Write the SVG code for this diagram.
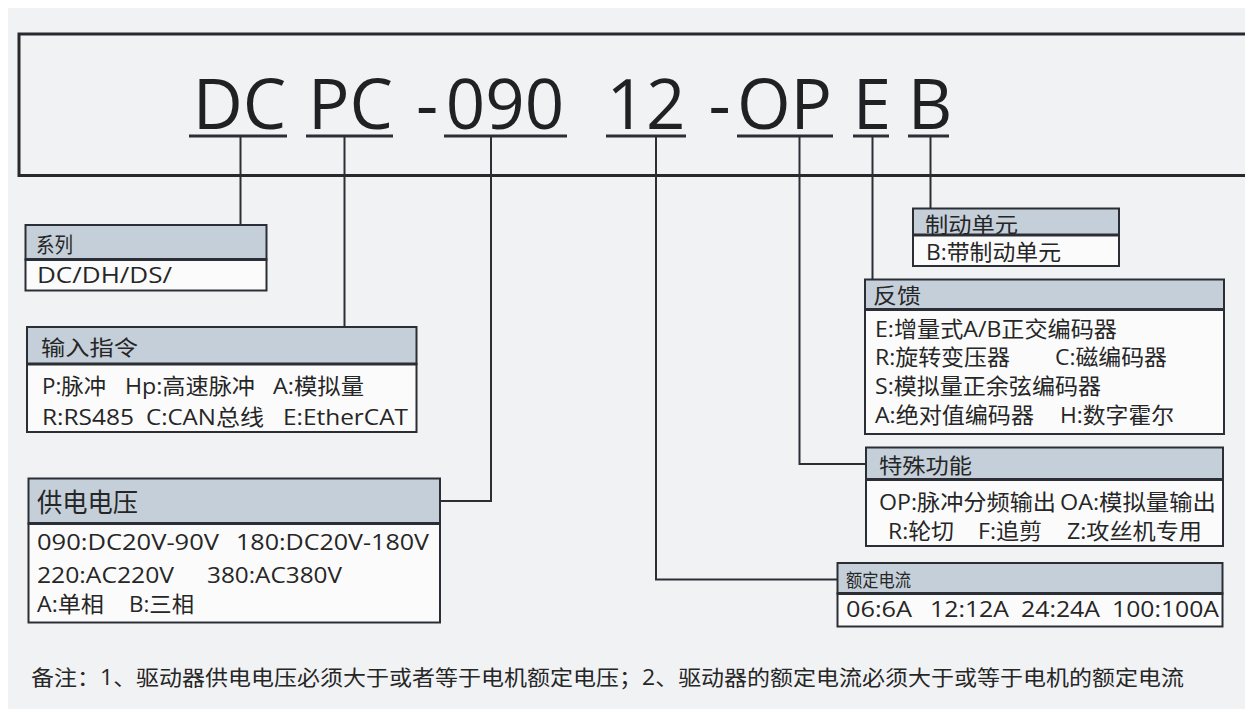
<svg xmlns="http://www.w3.org/2000/svg" width="1245" height="709" viewBox="0 0 1245 709">
<style>
.bg{fill:#f1f2f4}
.frame{fill:none;stroke:#26292e;stroke-width:3}
.hd{fill:#c4cfd9;stroke:#2b2f35;stroke-width:2}
.bd{fill:#fbfbfc;stroke:#2b2f35;stroke-width:2}
.div{stroke:#2b2f35;stroke-width:3}
.ul{stroke:#2b2f35;stroke-width:3}
.cn{fill:none;stroke:#2b2f35;stroke-width:2}
text{font-family:"Open Sans","Noto Sans CJK SC",sans-serif;fill:#262626}
.title{font-size:69px;fill:#1f2124}
.t{font-size:22px}
.h{font-size:21px}
</style>
<rect x="0" y="0" width="1245" height="709" fill="#ffffff"/>
<rect class="bg" x="8" y="8" width="1237" height="701"/>
<rect class="frame" x="19" y="34" width="1240" height="141.5"/>

<g id="code">
<text class="title" x="239.5" y="129" text-anchor="middle">DC</text>
<text class="title" x="350.5" y="129" text-anchor="middle">PC</text>
<text class="title" x="427" y="129" text-anchor="middle">-</text>
<text class="title" x="505" y="129" text-anchor="middle">090</text>
<text class="title" x="646" y="129" text-anchor="middle">12</text>
<text class="title" x="719.5" y="129" text-anchor="middle">-</text>
<text class="title" x="784.5" y="129" text-anchor="middle">OP</text>
<text class="title" x="872" y="129" text-anchor="middle">E</text>
<text class="title" x="930" y="129" text-anchor="middle">B</text>
<line class="ul" x1="189" y1="136" x2="287" y2="136"/>
<line class="ul" x1="306" y1="136" x2="393" y2="136"/>
<line class="ul" x1="444" y1="136" x2="567" y2="136"/>
<line class="ul" x1="606" y1="136" x2="686" y2="136"/>
<line class="ul" x1="737" y1="136" x2="833" y2="136"/>
<line class="ul" x1="853" y1="136" x2="889" y2="136"/>
<line class="ul" x1="908" y1="136" x2="949" y2="136"/>
</g>

<g id="connectors">
<polyline class="cn" points="240.5,137 240.5,225"/>
<polyline class="cn" points="344.5,137 344.5,327"/>
<polyline class="cn" points="491,137 491,501 440,501"/>
<polyline class="cn" points="656,137 656,579.5 837.5,579.5"/>
<polyline class="cn" points="799.5,137 799.5,464 866,464"/>
<polyline class="cn" points="872.5,137 872.5,279.5"/>
<polyline class="cn" points="930.5,137 930.5,208.5"/>
</g>

<g id="series">
<rect class="hd" x="25.5" y="225" width="241" height="34.5"/>
<rect class="bd" x="25.5" y="259.5" width="241" height="31"/>
<line class="div" x1="25.5" y1="259.5" x2="266.5" y2="259.5"/>
<text class="h" x="36" y="252" font-size="20" textLength="37" lengthAdjust="spacingAndGlyphs">系列</text>
<text class="t" x="37" y="283" textLength="135" lengthAdjust="spacingAndGlyphs">DC/DH/DS/</text>
</g>

<g id="input">
<rect class="hd" x="27" y="327" width="389.5" height="37"/>
<rect class="bd" x="27" y="364" width="389.5" height="68"/>
<line class="div" x1="27" y1="364" x2="416.5" y2="364"/>
<text class="h" x="41" y="355" font-size="22" textLength="97" lengthAdjust="spacingAndGlyphs">输入指令</text>
<text class="t" x="42" y="394" textLength="64" lengthAdjust="spacingAndGlyphs">P:脉冲</text>
<text class="t" x="125" y="394" textLength="130" lengthAdjust="spacingAndGlyphs">Hp:高速脉冲</text>
<text class="t" x="273" y="394" textLength="91" lengthAdjust="spacingAndGlyphs">A:模拟量</text>
<text class="t" x="42" y="425" textLength="92" lengthAdjust="spacingAndGlyphs">R:RS485</text>
<text class="t" x="146" y="425" textLength="118" lengthAdjust="spacingAndGlyphs">C:CAN总线</text>
<text class="t" x="283" y="425" textLength="125" lengthAdjust="spacingAndGlyphs">E:EtherCAT</text>
</g>

<g id="supply">
<rect class="hd" x="28.5" y="478.5" width="411.5" height="45"/>
<rect class="bd" x="28.5" y="523.5" width="411.5" height="99"/>
<line class="div" x1="28.5" y1="523.5" x2="440" y2="523.5"/>
<text x="37" y="512" font-size="26" textLength="101" lengthAdjust="spacingAndGlyphs">供电电压</text>
<text class="t" x="37" y="550" font-size="23" textLength="182" lengthAdjust="spacingAndGlyphs">090:DC20V-90V</text>
<text class="t" x="236" y="550" font-size="23" textLength="193" lengthAdjust="spacingAndGlyphs">180:DC20V-180V</text>
<text class="t" x="37" y="583" font-size="23" textLength="137" lengthAdjust="spacingAndGlyphs">220:AC220V</text>
<text class="t" x="207" y="583" font-size="23" textLength="135" lengthAdjust="spacingAndGlyphs">380:AC380V</text>
<text class="t" x="37" y="612" font-size="23" textLength="67" lengthAdjust="spacingAndGlyphs">A:单相</text>
<text class="t" x="129" y="612" font-size="23" textLength="65" lengthAdjust="spacingAndGlyphs">B:三相</text>
</g>

<g id="brake">
<rect class="hd" x="913" y="208.5" width="206" height="26.5"/>
<rect class="bd" x="913" y="235" width="206" height="31"/>
<line class="div" x1="913" y1="235" x2="1119" y2="235"/>
<text class="h" x="925" y="231.5" font-size="20" textLength="93" lengthAdjust="spacingAndGlyphs">制动单元</text>
<text class="t" x="926" y="259.5" font-size="21" textLength="135" lengthAdjust="spacingAndGlyphs">B:带制动单元</text>
</g>

<g id="feedback">
<rect class="hd" x="865" y="279.5" width="359" height="30"/>
<rect class="bd" x="865" y="309.5" width="359" height="124.5"/>
<line class="div" x1="865" y1="309.5" x2="1224" y2="309.5"/>
<text class="h" x="873" y="303" font-size="21" textLength="48" lengthAdjust="spacingAndGlyphs">反馈</text>
<text class="t" x="875" y="337" font-size="21" textLength="242" lengthAdjust="spacingAndGlyphs">E:增量式A/B正交编码器</text>
<text class="t" x="875" y="365" font-size="21" textLength="135" lengthAdjust="spacingAndGlyphs">R:旋转变压器</text>
<text class="t" x="1055" y="365" font-size="21" textLength="112" lengthAdjust="spacingAndGlyphs">C:磁编码器</text>
<text class="t" x="875" y="394" font-size="21" textLength="226" lengthAdjust="spacingAndGlyphs">S:模拟量正余弦编码器</text>
<text class="t" x="875" y="423" font-size="21" textLength="159" lengthAdjust="spacingAndGlyphs">A:绝对值编码器</text>
<text class="t" x="1060" y="423" font-size="21" textLength="114" lengthAdjust="spacingAndGlyphs">H:数字霍尔</text>
</g>

<g id="special">
<rect class="hd" x="866" y="447.5" width="357" height="32"/>
<rect class="bd" x="866" y="479.5" width="357" height="66.5"/>
<line class="div" x1="866" y1="479.5" x2="1223" y2="479.5"/>
<text class="h" x="879" y="472.5" font-size="20" textLength="93" lengthAdjust="spacingAndGlyphs">特殊功能</text>
<text class="t" x="879" y="510" textLength="177" lengthAdjust="spacingAndGlyphs">OP:脉冲分频输出</text>
<text class="t" x="1060" y="510" textLength="156" lengthAdjust="spacingAndGlyphs">OA:模拟量输出</text>
<text class="t" x="888" y="538.5" textLength="66" lengthAdjust="spacingAndGlyphs">R:轮切</text>
<text class="t" x="978" y="538.5" textLength="64" lengthAdjust="spacingAndGlyphs">F:追剪</text>
<text class="t" x="1067" y="538.5" textLength="135" lengthAdjust="spacingAndGlyphs">Z:攻丝机专用</text>
</g>

<g id="current">
<rect class="hd" x="837.5" y="563" width="385" height="30.5"/>
<rect class="bd" x="837.5" y="593.5" width="385" height="33"/>
<line class="div" x1="837.5" y1="593.5" x2="1222.5" y2="593.5"/>
<text x="846" y="587" font-size="18" textLength="65" lengthAdjust="spacingAndGlyphs">额定电流</text>
<text class="t" x="846" y="617" textLength="66" lengthAdjust="spacingAndGlyphs">06:6A</text>
<text class="t" x="930" y="617" textLength="79" lengthAdjust="spacingAndGlyphs">12:12A</text>
<text class="t" x="1021" y="617" textLength="79" lengthAdjust="spacingAndGlyphs">24:24A</text>
<text class="t" x="1112" y="617" textLength="107" lengthAdjust="spacingAndGlyphs">100:100A</text>
</g>

<g id="note">
<text x="31" y="685" font-size="21" textLength="1153" lengthAdjust="spacingAndGlyphs">备注：1、驱动器供电电压必须大于或者等于电机额定电压；2、驱动器的额定电流必须大于或等于电机的额定电流</text>
</g>
</svg>
